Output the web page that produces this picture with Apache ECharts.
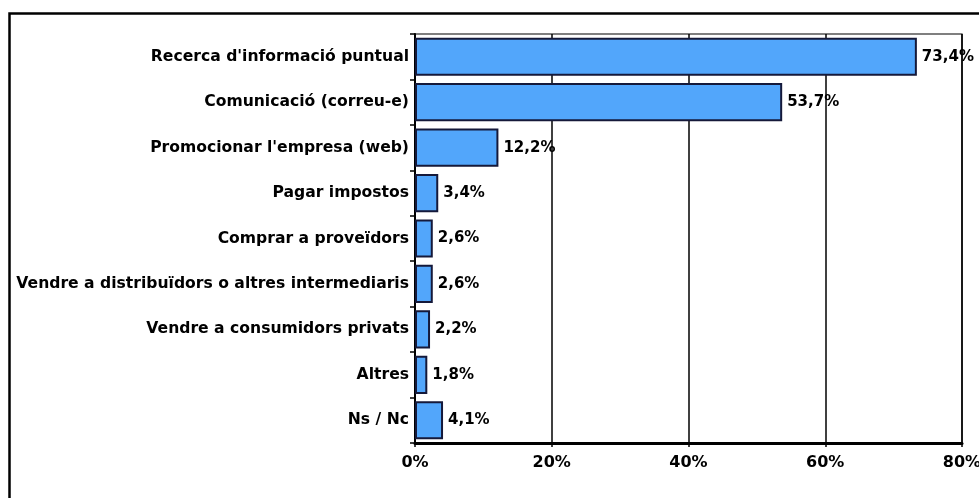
<!DOCTYPE html>
<html>
<head>
<meta charset="utf-8">
<script src="https://cdn.jsdelivr.net/npm/echarts@6/dist/echarts.min.js"></script>
<style>
  html, body { margin: 0; padding: 0; background: #fff; }
  #main { width: 979px; height: 498px; }
</style>
</head>
<body>
<div id="main"></div>
<script>
// categories, top to bottom
var categories = [
  "Recerca d'informació puntual",
  'Comunicació (correu-e)',
  "Promocionar l'empresa (web)",
  'Pagar impostos',
  'Comprar a proveïdors',
  'Vendre a distribuïdors o altres intermediaris',
  'Vendre a consumidors privats',
  'Altres',
  'Ns / Nc'
];
var percentages = [73.4, 53.7, 12.2, 3.4, 2.6, 2.6, 2.2, 1.8, 4.1];
var xTicks = [0, 20, 40, 60, 80];

var fontFam = '"DejaVu Sans", Verdana, sans-serif';

var chartDom = document.getElementById('main');
var myChart = echarts.init(chartDom);
var option;

option = {
  animation: false,
  backgroundColor: '#fff',
  graphic: [
    {
      // outer frame (only top and left visible)
      type: 'rect',
      left: 7, top: 11,
      shape: { width: 1000, height: 520 },
      style: { fill: 'none', stroke: '#000', lineWidth: 2.5 },
      z: 100
    }
  ],
  grid: {
    left: 415,
    right: 17,
    top: 34,
    bottom: 55,
    outerBoundsMode: 'none',
    containLabel: false,
    show: true,
    borderColor: '#000',
    borderWidth: 1.2
  },
  xAxis: {
    type: 'value',
    min: xTicks[0],
    max: xTicks[xTicks.length - 1],
    interval: 20,
    axisLine: { show: true, lineStyle: { color: '#000', width: 3 } },
    axisTick: { show: true, length: 4, lineStyle: { color: '#000', width: 1.5 } },
    splitLine: { show: true, lineStyle: { color: '#000', width: 1.5 } },
    axisLabel: {
      formatter: '{value}%',
      color: '#000',
      fontWeight: 'bold',
      fontFamily: fontFam,
      fontSize: 16,
      margin: 12
    }
  },
  yAxis: {
    type: 'category',
    inverse: true,
    data: categories,
    axisLine: { show: true, lineStyle: { color: '#000', width: 2 } },
    axisTick: { show: true, length: 5, lineStyle: { color: '#000', width: 1.5 } },
    axisLabel: {
      color: '#000',
      fontWeight: 'bold',
      fontFamily: fontFam,
      fontSize: 15.6,
      margin: 6
    }
  },
  series: [
    {
      type: 'bar',
      data: percentages,
      barCategoryGap: '16%',
      itemStyle: {
        color: '#52a6fb',
        borderColor: '#15193a',
        borderWidth: 2
      },
      label: {
        show: true,
        position: 'right',
        distance: 5,
        color: '#000',
        fontWeight: 'bold',
        fontFamily: fontFam,
        fontSize: 15,
        formatter: function (p) {
          return p.value.toFixed(1).replace('.', ',') + '%';
        }
      },
      z: 3
    }
  ]
};

option && myChart.setOption(option);
</script>
</body>
</html>
